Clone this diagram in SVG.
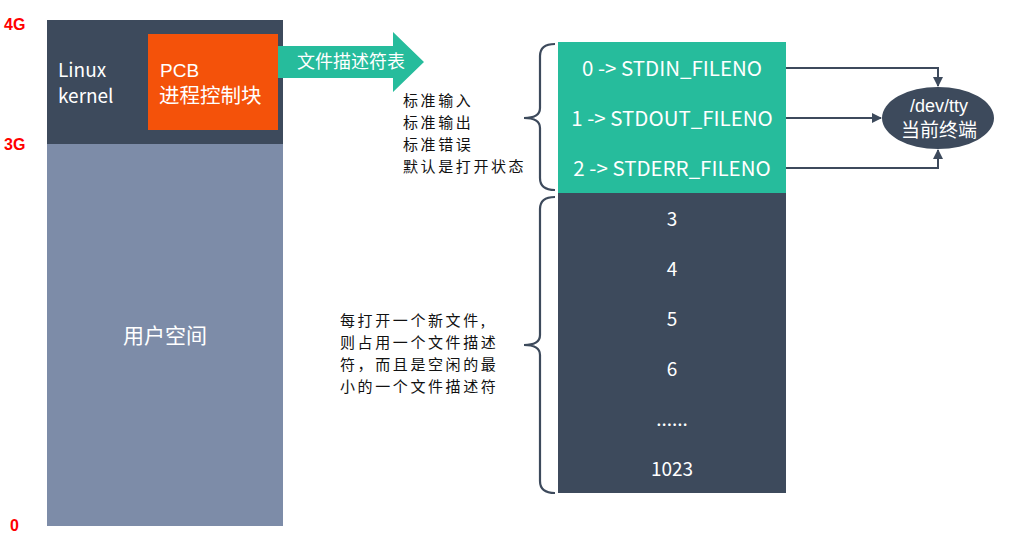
<svg xmlns="http://www.w3.org/2000/svg" width="1011" height="535" viewBox="0 0 1011 535">
<defs>
<style>
.w{fill:#fff;font-family:"Noto Sans CJK SC","Noto Sans",sans-serif}
.l{fill:#fff;font-family:"Liberation Sans",Arial,sans-serif}
.k{fill:#111;font-family:"Noto Sans CJK SC","Noto Sans",sans-serif;font-size:15px;letter-spacing:2.6px}
.r{fill:#f00;font-family:"Liberation Sans",Arial,sans-serif;font-weight:bold;font-size:16px}
.c{fill:none;stroke:#3d4a5c;stroke-width:2}
.b{fill:none;stroke:#3d4a5c;stroke-width:2.2}
</style>
<marker id="ah" viewBox="0 0 10 10" refX="9" refY="5" markerWidth="5" markerHeight="5" orient="auto">
<path d="M0,0 L10,5 L0,10 z" fill="#3d4a5c"/>
</marker>
</defs>
<rect width="1011" height="535" fill="#fff"/>
<g id="axis">
<text class="r" x="4" y="30">4G</text>
<text class="r" x="4" y="150">3G</text>
<text class="r" x="10" y="531">0</text>
</g>
<g id="kernel">
<rect x="47" y="20" width="236" height="124" fill="#3d4a5c"/>
<text class="w" x="58" y="77" font-size="19">Linux</text>
<text class="w" x="58" y="103" font-size="19">kernel</text>
</g>
<g id="pcb">
<rect x="148" y="34" width="130" height="96" fill="#f4520a"/>
<text class="l" x="160" y="77" font-size="19">PCB</text>
<text class="w" x="159" y="103" font-size="20.5">进程控制块</text>
</g>
<g id="userspace">
<rect x="47" y="144" width="236" height="382" fill="#7d8ca8"/>
<text class="w" x="165" y="343" font-size="21" text-anchor="middle">用户空间</text>
</g>
<g id="fdtable-arrow">
<path d="M278,46 H393 V32 L424,62 L393,92 V78 H278 z" fill="#26bc9c"/>
<text class="w" x="351" y="68" font-size="18" text-anchor="middle">文件描述符表</text>
</g>
<g id="std-note">
<text class="k" x="403" y="106">标准输入</text>
<text class="k" x="403" y="128">标准输出</text>
<text class="k" x="403" y="150">标准错误</text>
<text class="k" x="403" y="172">默认是打开状态</text>
</g>
<g id="new-note">
<text class="k" x="340" y="326">每打开一个新文件,</text>
<text class="k" x="340" y="348">则占用一个文件描述</text>
<text class="k" x="340" y="370">符，而且是空闲的最</text>
<text class="k" x="340" y="392">小的一个文件描述符</text>
</g>
<g id="brace1">
<path class="b" d="M555,44 Q540,44 540,56 V108 Q540,118 524,118 Q540,118 540,128 V178 Q540,190 555,190"/>
</g>
<g id="brace2">
<path class="b" d="M555,197 Q540,197 540,209 V335 Q540,345 524,345 Q540,345 540,355 V481 Q540,493 555,493"/>
</g>
<g id="std-table">
<rect x="558" y="42" width="228" height="151" fill="#26bc9c"/>
<text class="w" x="672" y="76" font-size="20.5" text-anchor="middle">0 -&gt; STDIN_FILENO</text>
<text class="w" x="672" y="126" font-size="20.5" text-anchor="middle">1 -&gt; STDOUT_FILENO</text>
<text class="w" x="672" y="176" font-size="20.5" text-anchor="middle">2 -&gt; STDERR_FILENO</text>
</g>
<g id="fd-table">
<rect x="558" y="193" width="228" height="300" fill="#3d4a5c"/>
<text class="w" x="672" y="226" font-size="19" text-anchor="middle">3</text>
<text class="w" x="672" y="276" font-size="19" text-anchor="middle">4</text>
<text class="w" x="672" y="326" font-size="19" text-anchor="middle">5</text>
<text class="w" x="672" y="376" font-size="19" text-anchor="middle">6</text>
<text class="w" x="672" y="426" font-size="19" text-anchor="middle">......</text>
<text class="w" x="672" y="476" font-size="19" text-anchor="middle">1023</text>
</g>
<g id="tty">
<ellipse cx="938" cy="118" rx="56" ry="31" fill="#3d4a5c"/>
<text class="l" x="939" y="112" font-size="18" text-anchor="middle">/dev/tty</text>
<text class="w" x="939" y="137" font-size="19" text-anchor="middle">当前终端</text>
</g>
<g id="connectors">
<path class="c" d="M786,68 H938 V86" marker-end="url(#ah)"/>
<path class="c" d="M786,118 H881" marker-end="url(#ah)"/>
<path class="c" d="M786,168 H938 V150" marker-end="url(#ah)"/>
</g>
</svg>
